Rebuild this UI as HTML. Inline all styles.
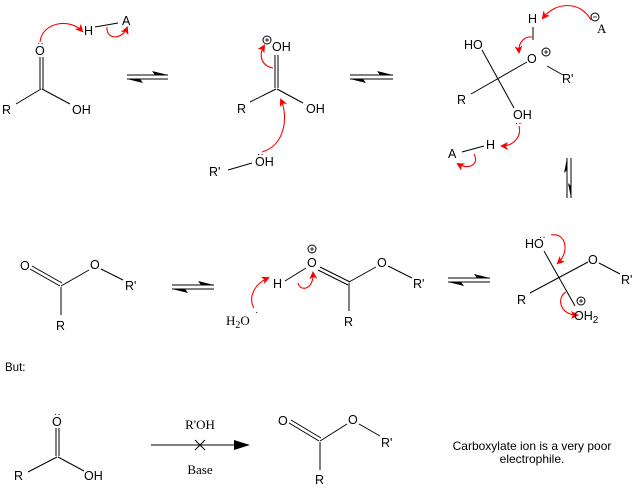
<!DOCTYPE html>
<html><head><meta charset="utf-8"><style>
html,body{margin:0;padding:0;background:#fff}
svg{display:block}
text{font-family:"Liberation Sans",Arial,sans-serif;font-size:12.5px;fill:#000}
.s{font-family:"Liberation Serif",serif;font-size:13px}
</style></head><body>
<svg width="638" height="488" viewBox="0 0 638 488" xmlns="http://www.w3.org/2000/svg">
<defs>
<marker id="r" markerWidth="8" markerHeight="8" refX="6" refY="4" orient="auto" markerUnits="userSpaceOnUse"><path d="M0,0 L8,4 L0,8 L2,4Z" fill="#f00"/></marker>
</defs>
<g stroke="#000" stroke-width="1" fill="none">
<line x1="40" y1="57" x2="40" y2="89"/><line x1="43" y1="57" x2="43" y2="89"/>
<line x1="41" y1="89" x2="16" y2="104"/><line x1="42" y1="89" x2="70" y2="104"/>
<line x1="95" y1="27" x2="118" y2="23"/>
<line x1="275" y1="55" x2="275" y2="88"/><line x1="278" y1="55" x2="278" y2="88"/>
<line x1="276" y1="89" x2="250" y2="102"/><line x1="277" y1="89" x2="303" y2="103"/>
<line x1="228" y1="170" x2="252" y2="163"/>
<line x1="533" y1="27" x2="533" y2="40"/>
<line x1="482" y1="50" x2="514" y2="108"/>
<line x1="471" y1="94" x2="527" y2="62"/>
<line x1="547" y1="66" x2="563" y2="75"/>
<line x1="462" y1="152" x2="484" y2="146"/>
<line x1="30" y1="269" x2="60" y2="286"/><line x1="32" y1="266" x2="62" y2="283"/>
<line x1="61" y1="286" x2="89" y2="270"/><line x1="101" y1="269" x2="123" y2="280"/>
<line x1="61" y1="287" x2="61" y2="315"/>
<line x1="285" y1="281" x2="306" y2="268"/>
<line x1="318" y1="270" x2="348" y2="285"/><line x1="320" y1="267" x2="350" y2="282"/>
<line x1="349" y1="282" x2="376" y2="267"/><line x1="388" y1="266" x2="412" y2="278"/>
<line x1="349" y1="283" x2="349" y2="311"/>
<line x1="544" y1="251" x2="575" y2="306"/>
<line x1="530" y1="293" x2="588" y2="262"/>
<line x1="599" y1="263" x2="620" y2="274"/>
<line x1="56" y1="428" x2="56" y2="456"/><line x1="59" y1="428" x2="59" y2="456"/>
<line x1="57" y1="457" x2="28" y2="472"/><line x1="58" y1="457" x2="84" y2="471"/>
<line x1="289" y1="423" x2="319" y2="441"/><line x1="291" y1="420" x2="321" y2="438"/>
<line x1="320" y1="441" x2="347" y2="424"/><line x1="359" y1="424" x2="380" y2="436"/>
<line x1="320" y1="442" x2="320" y2="470"/>
<line x1="151" y1="445" x2="238" y2="445"/>
<line x1="195" y1="440" x2="205" y2="450"/><line x1="205" y1="440" x2="195" y2="450"/>
<line x1="127" y1="75" x2="168" y2="75"/><line x1="127" y1="79" x2="168" y2="79"/>
<line x1="350" y1="75" x2="393" y2="75"/><line x1="350" y1="79" x2="393" y2="79"/>
<line x1="172" y1="285" x2="214" y2="285"/><line x1="172" y1="289" x2="214" y2="289"/>
<line x1="448" y1="278" x2="490" y2="278"/><line x1="448" y1="282" x2="490" y2="282"/>
<line x1="567" y1="158" x2="567" y2="198"/><line x1="571" y1="158" x2="571" y2="198"/>
<circle cx="267" cy="40" r="4"/><circle cx="546" cy="52" r="4"/><circle cx="595" cy="17" r="4"/>
<circle cx="312" cy="249" r="4"/><circle cx="581" cy="301" r="4"/>
</g>
<g fill="#000">
<path d="M168,75 L152,71 L155,75Z"/><path d="M127,79 L143,83 L140,79Z"/>
<path d="M393,75 L377,71 L380,75Z"/><path d="M350,79 L366,83 L363,79Z"/>
<path d="M214,285 L198,281 L201,285Z"/><path d="M172,289 L188,293 L185,289Z"/>
<path d="M490,278 L474,274 L477,278Z"/><path d="M448,282 L464,286 L461,282Z"/>
<path d="M567,158 L564,173 L567,170Z"/><path d="M571,198 L568,183 L571,186Z"/>
<path d="M250,445 L234,440 L234,450Z"/>
</g>
<g stroke="#000" stroke-width="0.8">
<line x1="265" y1="40" x2="269" y2="40"/><line x1="267" y1="38" x2="267" y2="42"/>
<line x1="544" y1="52" x2="548" y2="52"/><line x1="546" y1="50" x2="546" y2="54"/>
<line x1="593" y1="17" x2="597" y2="17"/>
<line x1="310" y1="249" x2="314" y2="249"/><line x1="312" y1="247" x2="312" y2="251"/>
<line x1="579" y1="301" x2="583" y2="301"/><line x1="581" y1="299" x2="581" y2="303"/>
</g>
<g stroke="#f00" stroke-width="1.1" fill="none" marker-end="url(#r)">
<path d="M40,42 C42,22 70,18 82,31"/>
<path d="M107,27 C106,40 122,40 127,28"/>
<path d="M273,68 C262,66 258,56 264,46"/>
<path d="M262,152 C286,145 288,115 281,100"/>
<path d="M591,20 C580,0 555,2 543,18"/>
<path d="M532,37 C525,36 518,42 519,52"/>
<path d="M519,126 C522,138 512,146 502,146"/>
<path d="M474,154 C480,165 468,170 458,164"/>
<path d="M254,308 C248,298 254,284 268,278"/>
<path d="M298,283 C300,292 314,290 313,273"/>
<path d="M551,235 C566,232 570,252 558,263"/>
<path d="M566,292 C556,298 560,315 577,315"/>
</g>
<g>
<text x="35" y="55">O</text><text x="37" y="46" style="font-size:10px">··</text>
<text x="2" y="114">R</text><text x="72" y="114">OH</text>
<text x="84" y="35">H</text><text x="122" y="25">A</text>
<text x="272" y="51">OH</text>
<text x="237" y="113">R</text><text x="306" y="113">OH</text>
<text x="209" y="176">R'</text><text x="255" y="166">OH</text><text x="257" y="157" style="font-size:10px">··</text>
<text x="528" y="23">H</text>
<text x="464" y="49">HO</text>
<text x="527" y="63">O</text>
<text x="562" y="83">R'</text>
<text x="457" y="104">R</text>
<text x="513" y="119">OH</text><text x="515" y="126" style="font-size:10px">··</text>
<text x="597" y="33" class="s">A</text>
<text x="448" y="158">A</text><text x="486" y="149">H</text>
<text x="20" y="270">O</text><text x="90" y="269">O</text><text x="125" y="290">R'</text><text x="56" y="330">R</text>
<text x="226" y="325" class="s">H<tspan dy="3" style="font-size:10px">2</tspan><tspan dy="-3">O</tspan></text><text x="255" y="315" style="font-size:10px">·</text>
<text x="273" y="288">H</text><text x="307" y="267">O</text><text x="377" y="267">O</text><text x="413" y="288">R'</text><text x="344" y="326">R</text>
<text x="525" y="248">HO</text><text x="539" y="240" style="font-size:10px">··</text>
<text x="588" y="264">O</text><text x="621" y="284">R'</text><text x="517" y="304">R</text>
<text x="574" y="320">OH<tspan style="font-size:10px" dy="3">2</tspan></text>
<text x="5" y="371" style="font-size:11.5px">But:</text>
<text x="52" y="426">O</text><text x="54" y="417" style="font-size:10px">··</text>
<text x="14" y="480">R</text><text x="84" y="480">OH</text>
<text x="200" y="429" class="s" text-anchor="middle">R'OH</text>
<text x="200" y="474" class="s" text-anchor="middle">Base</text>
<text x="278" y="425">O</text><text x="348" y="424">O</text><text x="381" y="447">R'</text><text x="315" y="484">R</text>
<text x="532" y="450" text-anchor="middle" style="font-size:12px">Carboxylate ion is a very poor</text>
<text x="532" y="463" text-anchor="middle" style="font-size:12px">electrophile.</text>
</g>
</svg>
</body></html>
